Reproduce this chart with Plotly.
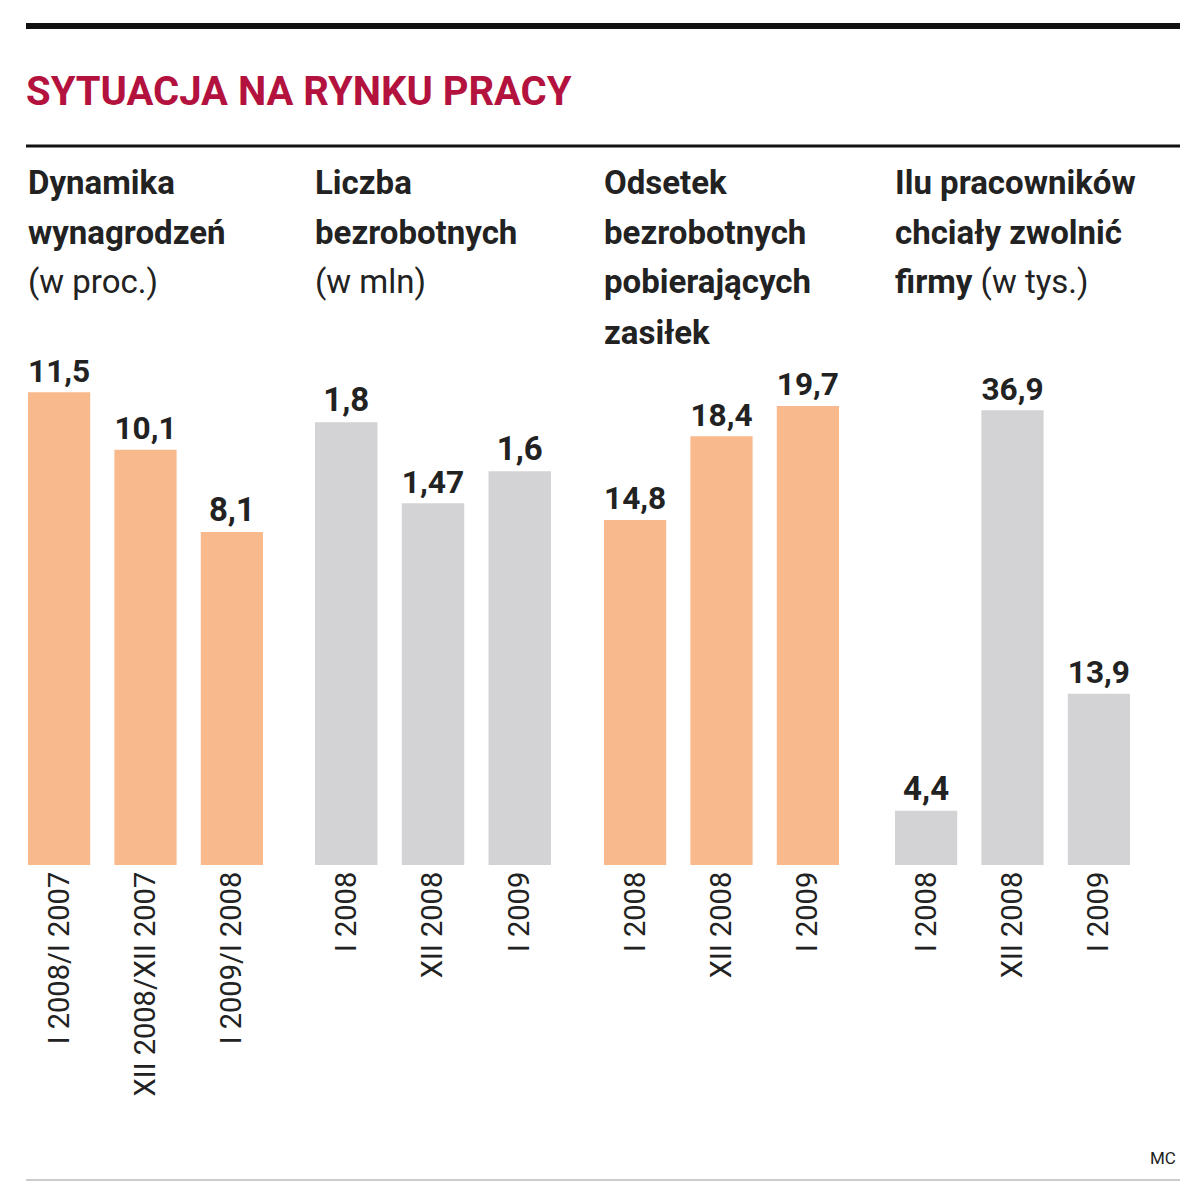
import plotly.graph_objects as go

# --- data ---
wages_labels = ["I 2008/I 2007", "XII 2008/XII 2007", "I 2009/I 2008"]
wages = [11.5, 10.1, 8.1]
unemp_labels = ["I 2008", "XII 2008", "I 2009"]
unemp = [1.8, 1.47, 1.6]
benefit_labels = ["I 2008", "XII 2008", "I 2009"]
benefit = [14.8, 18.4, 19.7]
layoff_labels = ["I 2008", "XII 2008", "I 2009"]
layoffs = [4.4, 36.9, 13.9]

ORANGE = "#f8b98c"
GREY = "#d3d3d5"
RED = "#b3123e"
FONT = "Roboto"

W, H = 1200, 1187
def px(x): return x / W
def py(y): return 1 - y / H

panels = [
    (wages_labels, wages, ORANGE, 20, 255, 13.55),
    (unemp_labels, unemp, GREY, 307, 543, 2.264),
    (benefit_labels, benefit, ORANGE, 596, 831, 23.9),
    (layoff_labels, layoffs, GREY, 887, 1122, 45.2),
]

fig = go.Figure()
layout = {}
for i, (labels, vals, color, x0, x1, ymax) in enumerate(panels):
    n = "" if i == 0 else str(i + 1)
    fig.add_trace(go.Bar(
        x=labels, y=vals, marker=dict(color=color, line=dict(width=0)),
        text=[f"<b>{v}</b>".replace(".", ",") for v in vals], textposition="outside",
        textfont=dict(family=FONT, size=33, color="#222"), cliponaxis=False,
        xaxis="x" + n, yaxis="y" + n, showlegend=False,
    ))
    layout["xaxis" + n] = dict(
        domain=[px(x0), px(x1)], anchor="y" + n, range=[-0.36, 2.36],
        tickangle=-90, tickfont=dict(family=FONT, size=29, color="#222"),
        showline=False, ticks="", showgrid=False, fixedrange=True,
    )
    layout["yaxis" + n] = dict(
        domain=[py(857), py(300)], anchor="x" + n, range=[0, ymax],
        visible=False, showgrid=False, fixedrange=True,
    )

fig.update_layout(**layout)
fig.update_layout(
    width=W, height=H, margin=dict(l=0, r=0, t=0, b=0, autoexpand=False),
    plot_bgcolor="white", paper_bgcolor="white", bargap=0.28,
)

# rules
def rule(y, color, width):
    return dict(type="line", xref="paper", yref="paper", x0=px(18), x1=px(1172),
                y0=py(y), y1=py(y), line=dict(color=color, width=width))
fig.update_layout(shapes=[rule(18, "#111", 6), rule(138, "#111", 3), rule(1172, "#999", 1)])

ann = []
def text(x, y, s, size=34, color="#222", anchor="left"):
    ann.append(dict(x=px(x), y=py(y), xref="paper", yref="paper", text=s, showarrow=False,
                    xanchor=anchor, yanchor="middle", font=dict(family=FONT, size=size, color=color)))

text(16, 83, "<b>SYTUACJA NA RYNKU PRACY</b>", size=40, color=RED)
headers = [
    (18, ["<b>Dynamika</b>", "<b>wynagrodzeń</b>", "(w proc.)"]),
    (305, ["<b>Liczba</b>", "<b>bezrobotnych</b>", "(w mln)"]),
    (594, ["<b>Odsetek</b>", "<b>bezrobotnych</b>", "<b>pobierających</b>", "<b>zasiłek</b>"]),
    (885, ["<b>Ilu pracowników</b>", "<b>chciały zwolnić</b>", "<b>firmy</b> (w tys.)"]),
]
for x, lines in headers:
    for j, s in enumerate(lines):
        text(x, 174 + 50 * j, s, size=33)
text(1170, 1150, "MC", size=17, anchor="right")
fig.update_layout(annotations=ann)

fig.write_html("out.html")
